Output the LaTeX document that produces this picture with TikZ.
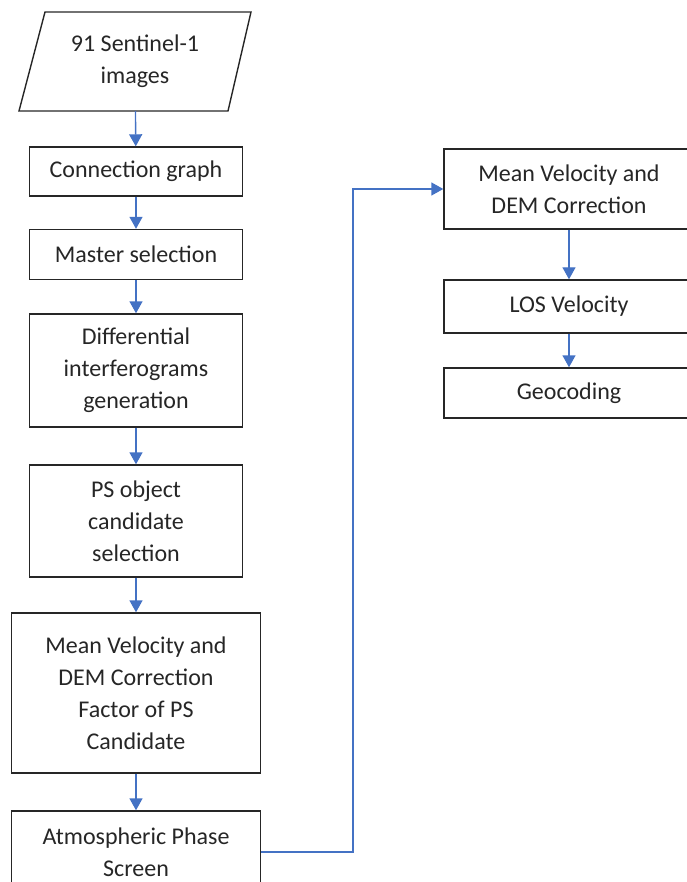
\documentclass[tikz,border=0pt]{standalone}
\usepackage{fontspec}
\setmainfont{Carlito}
\usepackage{tikz}
\usetikzlibrary{arrows.meta}
\definecolor{linkblue}{HTML}{4472C4}

\begin{document}
\begin{tikzpicture}[x=1pt,y=1pt]
							\tikzstyle{stepbox}=[rectangle,draw=black!85,line width=1.4pt,text=black!85,align=center,inner sep=0pt,font=\fontsize{24}{32}\selectfont]
							\tikzstyle{inputbox}=[rectangle,text=black!85,align=center,inner sep=0pt,font=\fontsize{24}{32}\selectfont]
							\tikzstyle{link}=[draw=linkblue,line width=1.4pt,-{Triangle[length=12pt,width=13pt]}]
							\useasboundingbox (0,0) rectangle (686,-882);
							\draw[draw=black!85,line width=1.4pt] (45,-12) -- (251,-12) -- (228,-111) -- (19,-111) -- cycle;
							\node[inputbox,minimum width=206pt,minimum height=99pt] (1) at (135,-61.5) {91 Sentinel-1\\images};
							\node[stepbox,minimum width=213pt,minimum height=49pt] (2) at (136,-171.5) {Connection graph};
							\node[stepbox,minimum width=213pt,minimum height=50pt] (3) at (136,-254.5) {Master selection};
							\node[stepbox,minimum width=213pt,minimum height=113pt] (4) at (136,-370.5) {Differential\\interferograms\\generation};
							\node[stepbox,minimum width=213pt,minimum height=112pt] (5) at (136,-521) {PS object\\candidate\\selection};
							\node[stepbox,minimum width=249pt,minimum height=160pt] (6) at (136,-693) {Mean Velocity and\\DEM Correction\\Factor of PS\\Candidate};
							\node[stepbox,minimum width=249pt,minimum height=82pt] (7) at (136,-852) {Atmospheric Phase\\Screen};
							\node[stepbox,minimum width=250pt,minimum height=80pt] (8) at (569,-189) {Mean Velocity and\\DEM Correction};
							\node[stepbox,minimum width=250pt,minimum height=53pt] (9) at (569,-306.5) {LOS Velocity};
							\node[stepbox,minimum width=250pt,minimum height=50pt] (10) at (569,-393) {Geocoding};
							\coordinate (c) at (353,-500);
							\draw[link] (1) -- (2);
							\draw[link] (2) -- (3);
							\draw[link] (3) -- (4);
							\draw[link] (4) -- (5);
							\draw[link] (5) -- (6);
							\draw[link] (6) -- (7);
							\draw[link] (7.east) -| (c) |- (8.west);
							\draw[link] (8) -- (9);
							\draw[link] (9) -- (10);
							\end{tikzpicture}
\end{document}
